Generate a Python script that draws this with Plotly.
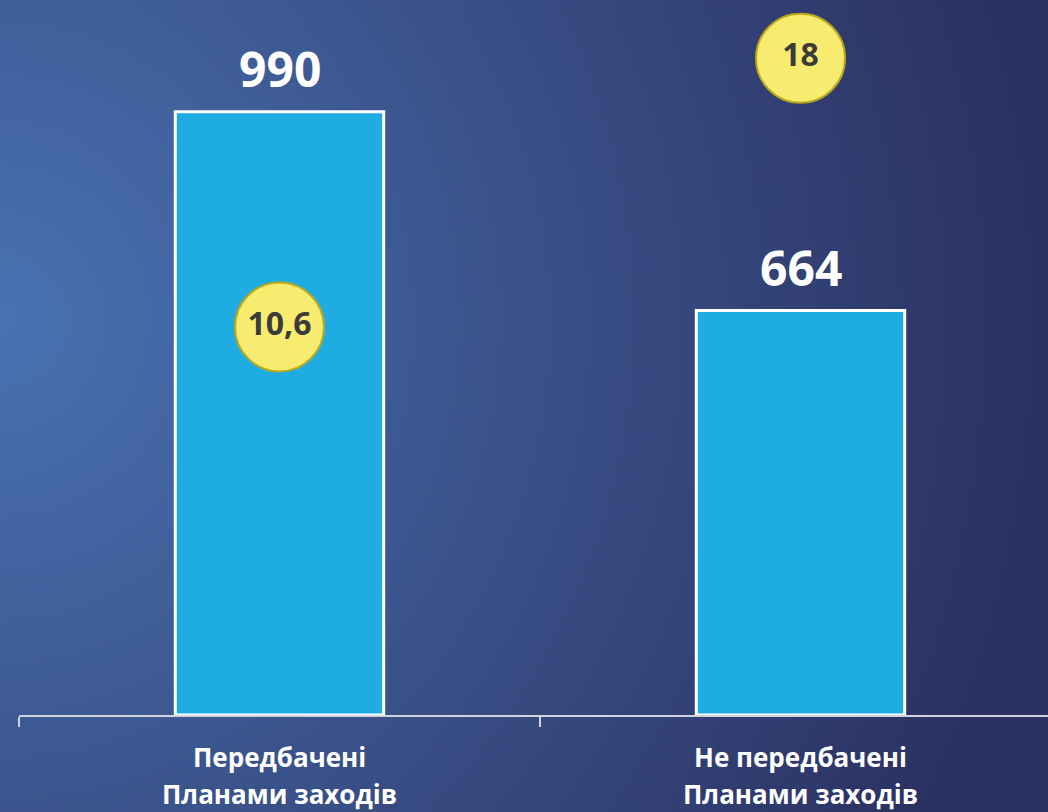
import plotly.graph_objects as go
import zlib, struct, base64, math

# ---------------- data ----------------
categories = ["Передбачені Планами заходів", "Не передбачені Планами заходів"]
label_line1 = ["Передбачені", "Не передбачені"]
label_line2 = ["Планами заходів", "Планами заходів"]
values = [990, 664]
badge_text = ["10,6", "18"]
badge_y = [637, 1078]   # vertical placement of the yellow badges (axis units)

# ---------------- layout constants ----------------
W, H = 1048, 812
ML, MR, MT, MB = 19, 0, 15, 97
PW, PH = W - ML - MR, H - MT - MB


# ---------------- gradient background (generated PNG) ----------------
def gradient_png(w, h):
    light = (73, 114, 178)
    dark = (43, 49, 97)
    raw = bytearray()
    for j in range(h):
        raw.append(0)
        py = (j + 0.5) / h * H
        for i in range(w):
            px = (i + 0.5) / w * W
            s = math.sqrt((px / 1050.0) ** 2 + ((py - 320) / 1100.0) ** 2)
            s = max(0.0, min(1.0, s))
            raw.extend(int(round(light[k] + (dark[k] - light[k]) * s)) for k in range(3))

    def chunk(t, d):
        c = struct.pack(">I", len(d)) + t + d
        return c + struct.pack(">I", zlib.crc32(t + d) & 0xFFFFFFFF)

    png = (b"\x89PNG\r\n\x1a\n"
           + chunk(b"IHDR", struct.pack(">IIBBBBB", w, h, 8, 2, 0, 0, 0))
           + chunk(b"IDAT", zlib.compress(bytes(raw), 9))
           + chunk(b"IEND", b""))
    return "data:image/png;base64," + base64.b64encode(png).decode()


bg = gradient_png(131, 102)

fig = go.Figure()

fig.add_trace(go.Bar(
    x=categories,
    y=values,
    width=0.4,
    marker=dict(color="#1eace2", line=dict(color="white", width=3)),
    hoverinfo="skip",
    showlegend=False,
))

fig.add_trace(go.Scatter(
    x=categories,
    y=badge_y,
    mode="markers+text",
    text=badge_text,
    textposition="middle center",
    textfont=dict(family="Open Sans", size=32, color="#3b3b3b", weight="bold"),
    marker=dict(size=89, color="#f7ec6f", line=dict(color="#bba81c", width=2)),
    cliponaxis=False,
    hoverinfo="skip",
    showlegend=False,
))

annotations = []
for c, v in zip(categories, values):
    annotations.append(dict(
        x=c, y=v, xref="x", yref="y", text=str(v), showarrow=False,
        yanchor="middle", yshift=43,
        font=dict(family="Open Sans", size=48, color="white", weight="bold"),
    ))
for c, l1, l2 in zip(categories, label_line1, label_line2):
    annotations.append(dict(
        x=c, y=0, xref="x", yref="paper", text=l1, showarrow=False,
        yanchor="middle", yshift=-42,
        font=dict(family="Open Sans", size=26, color="white", weight="bold"),
    ))
    annotations.append(dict(
        x=c, y=0, xref="x", yref="paper", text=l2, showarrow=False,
        yanchor="middle", yshift=-79,
        font=dict(family="Open Sans", size=26, color="white", weight="bold"),
    ))

fig.update_layout(
    width=W, height=H, autosize=False,
    margin=dict(l=ML, r=MR, t=MT, b=MB, pad=0),
    paper_bgcolor="#3b5189",
    plot_bgcolor="rgba(0,0,0,0)",
    annotations=annotations,
    images=[dict(
        source=bg, xref="paper", yref="paper",
        x=-ML / PW, y=1 + MT / PH, sizex=W / PW, sizey=H / PH,
        xanchor="left", yanchor="top", sizing="stretch", layer="below",
    )],
    xaxis=dict(
        type="category", range=[-0.5, 0.5 + (W - 540 - MR) / 521.0],
        showline=True, linecolor="#d0d3da", linewidth=2,
        ticks="outside", tickson="boundaries", ticklen=10,
        tickcolor="#d0d3da", tickwidth=2,
        showticklabels=False, showgrid=False, zeroline=False, fixedrange=True,
    ),
    yaxis=dict(
        range=[0, 1149], visible=False, showgrid=False, zeroline=False, fixedrange=True,
    ),
    bargap=0.6,
)

fig.write_html(
    "out.html",
    config={"displayModeBar": False},
    post_script="document.body.style.margin='0';document.body.style.overflow='hidden';",
)
